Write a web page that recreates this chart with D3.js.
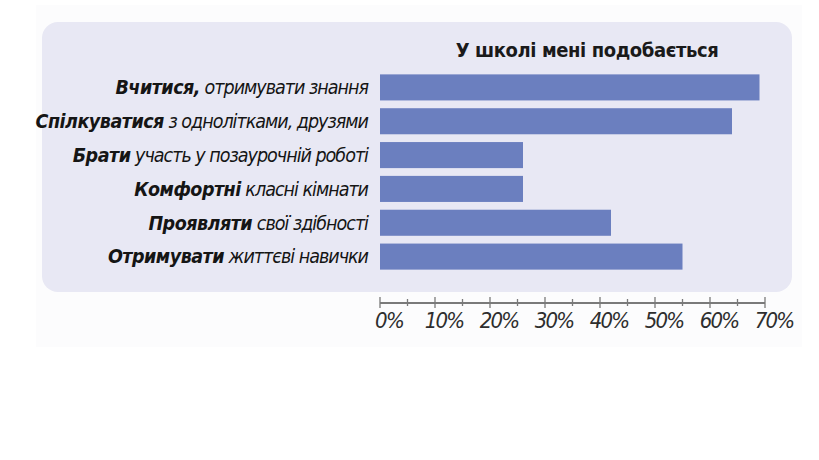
<!DOCTYPE html>
<html>
<head>
<meta charset="utf-8">
<script src="https://cdn.jsdelivr.net/npm/d3@7"></script>
<style>
  body { margin: 0; background: #fff; }
  svg { display: block; }
</style>
</head>
<body>
<svg id="chart" width="819" height="460"></svg>
<script>
// chart data
const title = "У школі мені подобається";
const boldParts = ["Вчитися,", "Спілкуватися", "Брати", "Комфортні", "Проявляти", "Отримувати"];
const restParts = [" отримувати знання", " з однолітками, друзями", " участь у позаурочній роботі", " класні кімнати", " свої здібності", " життєві навички"];
const values = [69, 64, 26, 26, 42, 55];
const majorTicks = [0, 10, 20, 30, 40, 50, 60, 70];
const minorTicks = [5, 15, 25, 35, 45, 55, 65];

const svg = d3.select("#chart");

// faint page background + lavender panel
svg.append("rect")
  .attr("x", 36).attr("y", 5).attr("width", 766).attr("height", 342)
  .attr("fill", "#fcfcfd");
svg.append("rect")
  .attr("x", 42).attr("y", 22).attr("width", 750).attr("height", 270)
  .attr("rx", 16).attr("fill", "#e8e8f4");

const x = d3.scaleLinear().domain([0, 70]).range([380, 765]);
const y = d3.scaleBand()
  .domain(d3.range(values.length))
  .range([71, 273])
  .paddingInner(0.23)
  .paddingOuter(0.1);

svg.append("text")
  .attr("x", 587).attr("y", 57)
  .attr("text-anchor", "middle")
  .attr("font-family", "'DejaVu Sans Condensed', sans-serif")
  .attr("font-weight", "bold")
  .attr("font-size", 20)
  .attr("letter-spacing", -0.4)
  .attr("fill", "#1a1a1a")
  .text(title);

svg.append("g")
  .selectAll("rect")
  .data(values)
  .join("rect")
  .attr("x", x(0))
  .attr("y", (d, i) => y(i))
  .attr("width", d => x(d) - x(0))
  .attr("height", y.bandwidth())
  .attr("fill", "#6b7fbf");

const labels = svg.append("g")
  .attr("font-family", "'DejaVu Sans Condensed', sans-serif")
  .attr("font-style", "italic")
  .attr("font-size", 19.5)
  .attr("fill", "#151515")
  .selectAll("text")
  .data(values)
  .join("text")
  .attr("x", 368)
  .attr("y", (d, i) => y(i) + y.bandwidth() / 2)
  .attr("dy", "0.35em")
  .attr("text-anchor", "end");

labels.append("tspan")
  .attr("font-weight", "bold")
  .attr("letter-spacing", -0.5)
  .text((d, i) => boldParts[i]);
labels.append("tspan")
  .attr("letter-spacing", -1)
  .text((d, i) => restParts[i]);

// axis
const axisY = 303;
const axis = svg.append("g").attr("stroke", "#7a7a7a");
axis.append("line")
  .attr("x1", x(0)).attr("x2", x(70))
  .attr("y1", axisY).attr("y2", axisY)
  .attr("stroke-width", 2);
axis.selectAll("line.major")
  .data(majorTicks)
  .join("line")
  .attr("class", "major")
  .attr("x1", d => x(d)).attr("x2", d => x(d))
  .attr("y1", axisY - 6).attr("y2", axisY + 5)
  .attr("stroke-width", 1.3);
axis.selectAll("line.minor")
  .data(minorTicks)
  .join("line")
  .attr("class", "minor")
  .attr("x1", d => x(d)).attr("x2", d => x(d))
  .attr("y1", axisY - 4).attr("y2", axisY + 3)
  .attr("stroke-width", 1.3);

svg.append("g")
  .attr("font-family", "'DejaVu Sans Condensed', sans-serif")
  .attr("font-style", "italic")
  .attr("font-size", 22)
  .attr("fill", "#2e2e2e")
  .selectAll("text")
  .data(majorTicks)
  .join("text")
  .attr("x", d => x(d) + 9)
  .attr("y", 328)
  .attr("text-anchor", "middle")
  .attr("letter-spacing", -1.8)
  .text(d => d + "%");
</script>
</body>
</html>
